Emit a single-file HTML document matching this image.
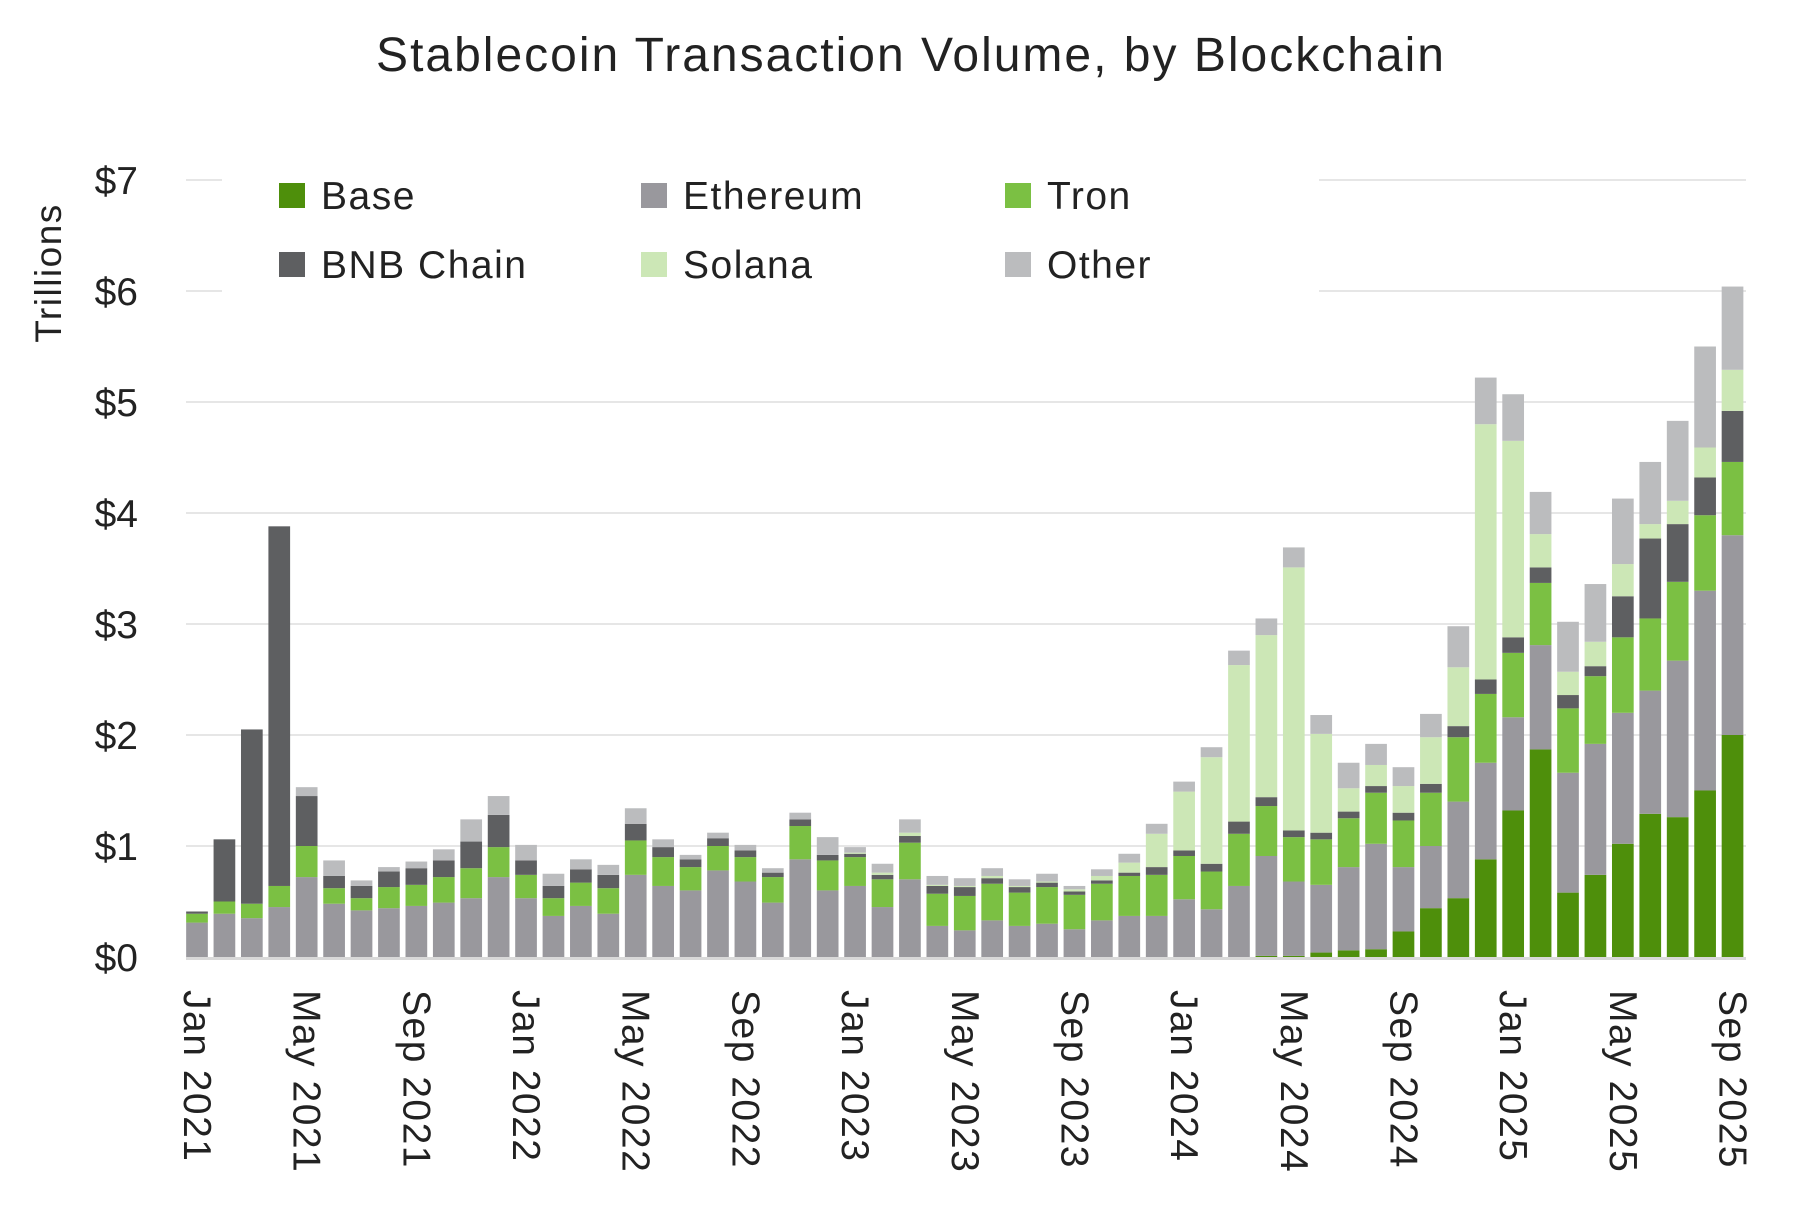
<!DOCTYPE html>
<html><head><meta charset="utf-8">
<style>
html,body{margin:0;padding:0;background:#fff;}
svg{display:block;font-family:"Liberation Sans",sans-serif;}
</style></head>
<body>
<svg id="chart" width="1801" height="1210" viewBox="0 0 1801 1210" xmlns="http://www.w3.org/2000/svg">
<text x="911" y="71" text-anchor="middle" font-size="48" letter-spacing="2" fill="#222">Stablecoin Transaction Volume, by Blockchain</text>
<text transform="translate(61,273) rotate(-90)" text-anchor="middle" font-size="37" letter-spacing="1.5" fill="#222">Trillions</text>
<g id="grid"></g>
<g id="bars"></g>
<g id="legend"></g>
<g id="xlabels"></g>
</svg>
<script>
const months = ["Jan 2021","Feb 2021","Mar 2021","Apr 2021","May 2021","Jun 2021","Jul 2021","Aug 2021","Sep 2021","Oct 2021","Nov 2021","Dec 2021","Jan 2022","Feb 2022","Mar 2022","Apr 2022","May 2022","Jun 2022","Jul 2022","Aug 2022","Sep 2022","Oct 2022","Nov 2022","Dec 2022","Jan 2023","Feb 2023","Mar 2023","Apr 2023","May 2023","Jun 2023","Jul 2023","Aug 2023","Sep 2023","Oct 2023","Nov 2023","Dec 2023","Jan 2024","Feb 2024","Mar 2024","Apr 2024","May 2024","Jun 2024","Jul 2024","Aug 2024","Sep 2024","Oct 2024","Nov 2024","Dec 2024","Jan 2025","Feb 2025","Mar 2025","Apr 2025","May 2025","Jun 2025","Jul 2025","Aug 2025","Sep 2025"];
const base = [0,0,0,0,0,0,0,0,0,0,0,0,0,0,0,0,0,0,0,0,0,0,0,0,0,0,0,0,0,0,0,0,0,0,0,0,0,0,0,0.01,0.01,0.04,0.06,0.07,0.23,0.44,0.53,0.88,1.32,1.87,0.58,0.74,1.02,1.29,1.26,1.50,2.00];
const ethereum = [0.31,0.39,0.35,0.45,0.72,0.48,0.42,0.44,0.46,0.49,0.53,0.72,0.53,0.37,0.46,0.39,0.74,0.64,0.60,0.78,0.68,0.49,0.88,0.60,0.64,0.45,0.70,0.28,0.24,0.33,0.28,0.30,0.25,0.33,0.37,0.37,0.52,0.43,0.64,0.90,0.67,0.61,0.75,0.95,0.58,0.56,0.87,0.87,0.84,0.94,1.08,1.18,1.18,1.11,1.41,1.80,1.80];
const tron = [0.08,0.11,0.13,0.19,0.28,0.14,0.11,0.19,0.19,0.23,0.27,0.27,0.21,0.16,0.21,0.23,0.31,0.26,0.21,0.22,0.22,0.23,0.30,0.27,0.26,0.25,0.33,0.29,0.31,0.33,0.30,0.33,0.31,0.33,0.36,0.37,0.39,0.34,0.47,0.45,0.40,0.41,0.44,0.46,0.42,0.48,0.58,0.62,0.58,0.56,0.58,0.61,0.68,0.65,0.71,0.68,0.66];
const bnb = [0.02,0.56,1.57,3.24,0.45,0.11,0.11,0.14,0.15,0.15,0.24,0.29,0.13,0.11,0.12,0.12,0.15,0.09,0.07,0.07,0.06,0.04,0.06,0.05,0.03,0.04,0.06,0.07,0.08,0.05,0.05,0.04,0.03,0.03,0.03,0.07,0.05,0.07,0.11,0.08,0.06,0.06,0.06,0.06,0.07,0.08,0.10,0.13,0.14,0.14,0.12,0.09,0.37,0.72,0.52,0.34,0.46];
const solana = [0,0,0,0,0,0,0,0,0,0,0,0,0,0,0,0,0,0,0,0,0,0,0,0,0.01,0.02,0.03,0.01,0.01,0.02,0.01,0.01,0.02,0.04,0.09,0.30,0.53,0.96,1.41,1.46,2.37,0.89,0.21,0.19,0.24,0.42,0.53,2.30,1.77,0.30,0.21,0.22,0.29,0.13,0.21,0.27,0.37];
const other = [0,0,0,0,0.08,0.14,0.05,0.04,0.06,0.10,0.20,0.17,0.14,0.11,0.09,0.09,0.14,0.07,0.04,0.05,0.05,0.04,0.06,0.16,0.05,0.08,0.12,0.08,0.07,0.07,0.06,0.07,0.03,0.06,0.08,0.09,0.09,0.09,0.13,0.15,0.18,0.17,0.23,0.19,0.17,0.21,0.37,0.42,0.42,0.38,0.45,0.52,0.59,0.56,0.72,0.91,0.75];
const yTicks = [0,1,2,3,4,5,6,7];
const yTickLabels = ["$0","$1","$2","$3","$4","$5","$6","$7"];
const seriesNames = ["Base","Ethereum","Tron","BNB Chain","Solana","Other"];

const NS="http://www.w3.org/2000/svg";
const colors={"Base":"#4e8f0b","Ethereum":"#99989d","Tron":"#7bc043","BNB Chain":"#5e5f61","Solana":"#cce7b6","Other":"#bbbcbe"};
const seriesData={"Base":base,"Ethereum":ethereum,"Tron":tron,"BNB Chain":bnb,"Solana":solana,"Other":other};
const Y0=957, UNIT=111, X0=197, STEP=27.42, BW=21.7, GL=186, GR=1746;
const y=v=>Y0-v*UNIT;
const x=i=>X0+i*STEP;
function mk(tag,attrs,parent){const e=document.createElementNS(NS,tag);for(const k in attrs)e.setAttribute(k,attrs[k]);parent.appendChild(e);return e;}

const grid=document.getElementById('grid');
yTicks.forEach((t,k)=>{
  if(t>0){
    const l=mk('line',{x1:GL,x2:GR,y1:y(t),y2:y(t),stroke:'#e6e6e6','stroke-width':2},grid);
    
    
  }
  const tx=mk('text',{x:138,y:y(t)+14,'text-anchor':'end','font-size':39,fill:'#222'},grid);
  tx.textContent=yTickLabels[k];
  
  
});

const bars=document.getElementById('bars');
months.forEach((m,i)=>{
  let cum=0;
  seriesNames.forEach(s=>{
    const v=seriesData[s][i];
    if(v>0){
      const r=mk('rect',{x:x(i)-BW/2,y:y(cum+v),width:BW,height:v*UNIT,fill:colors[s]},bars);
      
      
    }
    cum+=v;
  });
});
const ax=mk('line',{x1:GL,x2:GR,y1:Y0+1.5,y2:Y0+1.5,stroke:'#d9d9d9','stroke-width':3},bars);



const xl=document.getElementById('xlabels');
months.forEach((m,i)=>{
  if(i%4===0){
    const t=mk('text',{transform:'translate('+(x(i)-13)+','+(Y0+33)+') rotate(90)','font-size':39,'letter-spacing':1.5,fill:'#222'},xl);
    t.textContent=m;
    
    
  }
});

const lg=document.getElementById('legend');
const bg=mk('rect',{x:222,y:160,width:1097,height:140,fill:'#fff'},lg);


const order=[["Base",0,0],["Ethereum",1,0],["Tron",2,0],["BNB Chain",0,1],["Solana",1,1],["Other",2,1]];
const colX=[279,641,1005], rowY=[195,264];
order.forEach(([s,c,r])=>{
  const g=mk('g',{},lg);
  
  
  mk('rect',{x:colX[c],y:rowY[r]-12,width:26,height:25,fill:colors[s]},g);
  const t=mk('text',{x:colX[c]+42,y:rowY[r]+14,'font-size':39,'letter-spacing':1.5,fill:'#222'},g);
  t.textContent=s;
});
</script>
</body></html>
